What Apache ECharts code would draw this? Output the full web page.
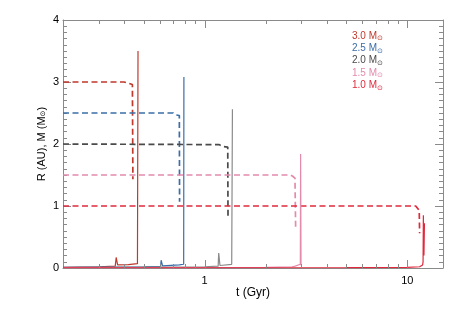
<!DOCTYPE html>
<html><head><meta charset="utf-8">
<script src="https://cdn.jsdelivr.net/npm/echarts@6/dist/echarts.min.js"></script>
<style>html,body{margin:0;padding:0;background:#fff}#c{width:463px;height:309px}</style>
</head><body><div id="c"></div>
<script>
// ---- data ----
const massLabels = ['3.0', '2.5', '2.0', '1.5', '1.0'];
const xMajorTicks = [1, 10];
const xMinorTicks = [0.3, 0.4, 0.5, 0.6, 0.7, 0.8, 0.9, 2, 3, 4, 5, 6, 7, 8, 9];
const yTicks = [0, 1, 2, 3, 4];

// radius R (AU) vs t (Gyr) – solid lines
const radius30 = [[0.2,0.012],[0.3,0.02],[0.362,0.03],[0.366,0.17],[0.372,0.05],[0.42,0.055],[0.466,0.07],[0.469,3.5]];
const radius25 = [[0.2,0.01],[0.5,0.02],[0.606,0.025],[0.61,0.125],[0.62,0.035],[0.75,0.05],[0.788,0.06],[0.790,3.08]];
const radius20 = [[0.2,0.008],[1.0,0.02],[1.166,0.03],[1.173,0.24],[1.19,0.04],[1.36,0.06],[1.368,0.07],[1.371,2.56]];
const radius15 = [[0.2,0.005],[2.0,0.01],[2.7,0.02],[2.80,0.03],[2.822,0.06],[2.965,0.06],[2.975,1.84],[2.99,0.04]];
const radius10 = [[0.2,0.004],[5,0.006],[10,0.01],[11.5,0.02],[11.9,0.05],[11.96,0.1],[12.0,0.85],[12.08,0.2],[12.15,0.72]];

// mass M (Msun) vs t (Gyr) – dashed lines
const mass30 = [[0.2,3.0],[0.40,3.0],[0.42,2.98],[0.44,2.96],[0.4425,1.43]];
const mass25 = [[0.2,2.5],[0.70,2.5],[0.72,2.47],[0.75,2.46],[0.752,1.07]];
const mass20 = [[0.2,2.0],[1.18,1.99],[1.22,1.96],[1.30,1.95],[1.304,0.80]];
const mass15 = [[0.2,1.5],[2.65,1.5],[2.72,1.48],[2.79,1.45],[2.812,0.64]];
const mass10 = [[0.2,1.0],[11.0,1.0],[11.25,0.98],[11.45,0.93],[11.5,0.56]];

const radiusSets = [radius30, radius25, radius20, radius15, radius10];
const massSets = [mass30, mass25, mass20, mass15, mass10];

// ---- styles ----
const colors = ['#c0392b', '#3b6da8', '#4a4a4a', '#e38aad', '#e02a3c'];
const solidColors = ['#c0392b', '#3b6da8', '#8a8a8a', '#e38aad', '#e02a3c'];
const FONT = '"Liberation Sans", Arial, "DejaVu Sans", sans-serif';
const frameColor = '#8a8a8a';
const MAJOR_LEN = 8, MINOR_LEN = 4;
const tMin = 0.2, tMax = 15;
const yMin = yTicks[0], yMax = yTicks[yTicks.length - 1];
const lMin = Math.log10(tMin), lMax = Math.log10(tMax);

const names = massLabels.map(m => m + ' M\u2299');

const series = [];
names.forEach((n, i) => {
  series.push({
    name: n, type: 'line', xAxisIndex: 0, yAxisIndex: 0,
    data: massSets[i], showSymbol: false, symbol: 'none', z: 2,
    lineStyle: { color: colors[i], width: 1.7, type: [6, 3.5] },
    itemStyle: { color: colors[i] }
  });
  series.push({
    name: n, type: 'line', xAxisIndex: 0, yAxisIndex: 0,
    data: radiusSets[i], showSymbol: false, symbol: 'none', z: 3,
    lineStyle: { color: solidColors[i], width: 1.2 },
    itemStyle: { color: colors[i] }
  });
});

// x-axis ticks (log positions) on bottom and top frame, placed through the log axis
const tickRows = xMajorTicks.map(v => [v, yMin, 1]).concat(xMinorTicks.map(v => [v, yMin, 0]));
series.push({
  type: 'custom', xAxisIndex: 0, yAxisIndex: 0, silent: true, clip: false, z: 5,
  data: tickRows,
  renderItem: (params, api) => {
    const t = api.value(0);
    const len = api.value(2) ? MAJOR_LEN : MINOR_LEN;
    const b = api.coord([t, yMin]);
    const tp = api.coord([t, yMax]);
    const st = { stroke: frameColor, lineWidth: 1 };
    const x = Math.round(b[0]) + 0.5;
    return {
      type: 'group', children: [
        { type: 'line', shape: { x1: x, y1: b[1], x2: x, y2: b[1] - len }, style: st },
        { type: 'line', shape: { x1: x, y1: tp[1], x2: x, y2: tp[1] + len }, style: st }
      ]
    };
  }
});

const lineStyle = { color: frameColor, width: 1 };
function logAxis(pos, extra) {
  return Object.assign({
    type: 'log', logBase: 10, min: tMin, max: tMax, position: pos,
    axisLine: { show: true, onZero: false, lineStyle },
    axisTick: { show: false }, axisLabel: { show: false },
    minorTick: { show: false }, splitLine: { show: false }
  }, extra || {});
}
function yAxis(pos, labels, extra) {
  return Object.assign({
    type: 'value', min: yMin, max: yMax, interval: 1, position: pos,
    axisLine: { show: true, onZero: false, lineStyle },
    axisTick: { show: true, inside: true, length: MAJOR_LEN, lineStyle },
    minorTick: { show: true, splitNumber: 10, length: MINOR_LEN, lineStyle },
    axisLabel: labels ? { show: true, margin: 4, color: '#000', fontFamily: FONT, fontSize: 11 } : { show: false },
    splitLine: { show: false }
  }, extra || {});
}
const labelValues = xMajorTicks.map(v => Math.log10(v));

const chart = echarts.init(document.getElementById('c'), null, { renderer: 'canvas' });
chart.setOption({
  animation: false,
  backgroundColor: '#fff',
  grid: { left: 63, right: 20, top: 20, bottom: 41, containLabel: false },
  legend: {
    orient: 'vertical', left: 342, top: 25, padding: 5,
    icon: 'none', itemWidth: 0, itemHeight: 8, itemGap: 0.3,
    selectedMode: false,
    data: names.map((n, i) => ({ name: n, textStyle: { color: colors[i] } })),
    formatter: n => '{m|' + n.split(' ')[0] + ' M}{s|\u2299}',
    textStyle: {
      fontFamily: FONT, fontSize: 10, lineHeight: 12,
      rich: {
        m: { fontFamily: FONT, fontSize: 10, lineHeight: 12 },
        s: { fontFamily: '"DejaVu Sans", sans-serif', fontSize: 7, lineHeight: 12, verticalAlign: 'bottom', padding: [4, 0, 0, 0] }
      }
    }
  },
  xAxis: [
    logAxis('bottom', {
      name: 't (Gyr)', nameLocation: 'middle', nameGap: 19,
      nameTextStyle: { color: '#000', fontFamily: FONT, fontSize: 12 }
    }),
    logAxis('top'),
    {
      // label-only helper in log10 space, for the "1" and "10" tick labels
      type: 'value', min: lMin, max: lMax, position: 'bottom',
      axisLine: { show: false, onZero: false }, axisTick: { show: false },
      splitLine: { show: false }, minorTick: { show: false },
      axisLabel: {
        show: true, customValues: labelValues, margin: 7,
        formatter: v => String(Math.round(Math.pow(10, v))),
        color: '#000', fontFamily: FONT, fontSize: 11
      }
    }
  ],
  yAxis: [
    yAxis('left', true, {
      name: '{n|R (AU), M (M}{s|\u2299}{n|)}', nameLocation: 'middle', nameGap: 16,
      nameMoveOverlap: false,
      nameTextStyle: {
        color: '#000', fontFamily: FONT, fontSize: 11,
        rich: {
          n: { fontFamily: FONT, fontSize: 11, color: '#000' },
          s: { fontFamily: '"DejaVu Sans", sans-serif', fontSize: 7, color: '#000', verticalAlign: 'bottom', padding: [4, 0, 0, 0] }
        }
      }
    }),
    yAxis('right', false)
  ],
  series: series
});
</script>
</body></html>
